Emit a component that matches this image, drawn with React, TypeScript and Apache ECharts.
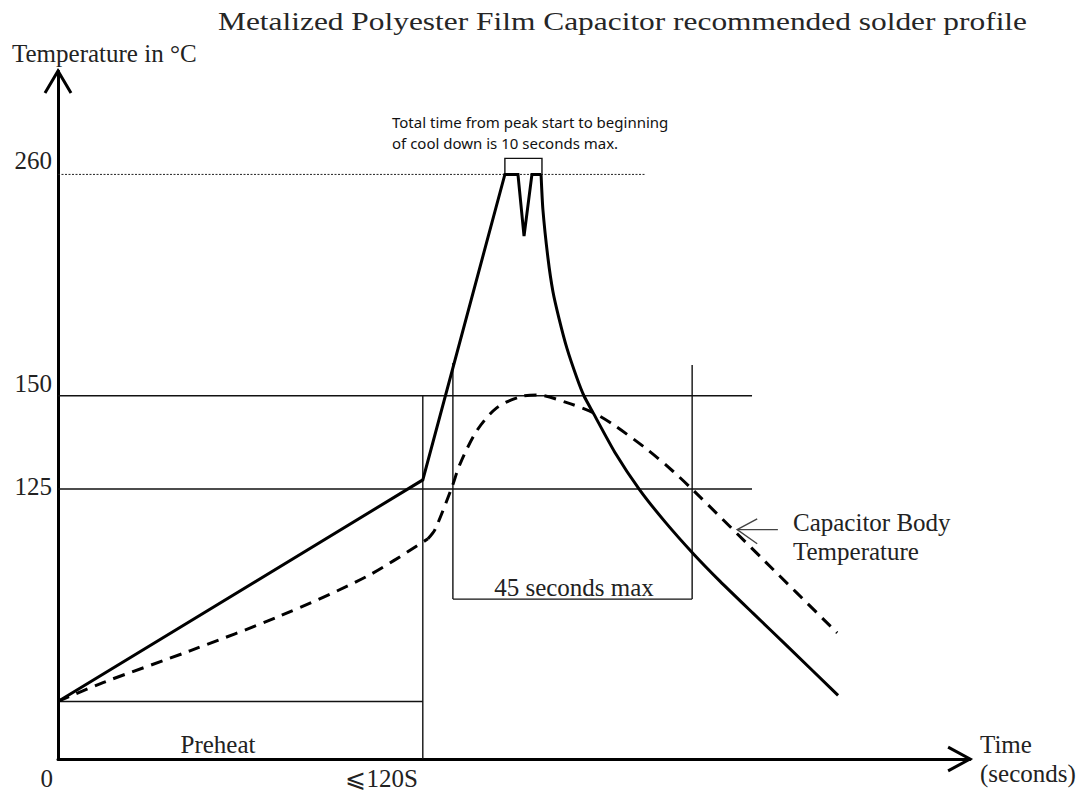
import React, { useEffect, useRef } from 'react';
import * as echarts from 'echarts';

// ---------- texts ----------
const TITLE = 'Metalized Polyester Film Capacitor recommended solder profile';
const Y_NAME = 'Temperature in °C';
const X_NAME = 'Time\n(seconds)';
const NOTE_LINES = ['Total time from peak start to beginning', 'of cool down is 10 seconds max.'];
const PREHEAT = 'Preheat';
const WINDOW_LABEL = '45 seconds max';
const BODY_LABEL = 'Capacitor Body\nTemperature';

// ---------- axes (schematic units) ----------
const X_MAX = 300;
const Y_MAX = 318;
const X_TICK_VALUES = [0, 120];
const X_TICK_LABELS = ['0', '⩽120S'];
const Y_LEVEL_VALUES = [124.8, 167.9, 270.2];
const Y_LEVEL_LABELS = ['125', '150', '260'];

// ---------- series data [time, level] ----------
const profileRise = [
  [0, 26.6], [120, 129], [147, 270.2], [151.3, 270.2], [153.3, 241.7], [155.9, 270.2], [158.9, 270.2],
];
const profileFall = [
  [158.9, 270.2], [159.5, 254.1], [161.2, 231.2], [162.8, 216.1], [164.8, 203.7], [167.4, 189.9],
  [170.7, 176.1], [173.0, 167.9], [176.0, 160.1], [183.2, 141.7], [191.4, 124.3], [199.7, 109.6],
  [208.9, 95.0], [217.8, 82.1], [228.6, 67.4], [239.8, 52.3], [256.6, 29.4],
];
const bodyTempHeat = [
  [0, 26.6], [14.8, 35.3], [43.4, 50.0], [73.0, 66.1], [101.6, 84.4], [121.7, 101.8],
];
const bodyTempPeak = [
  [121.7, 101.8], [124.0, 106.0], [129.6, 125.7], [132.2, 136.2], [137.8, 151.8], [144.4, 162.4],
  [152.0, 167.4], [157.6, 168.3], [167.4, 164.7], [176.0, 160.1], [182.6, 154.6], [193.8, 143.1],
  [202.3, 133.0], [208.9, 124.3], [232.6, 91.3], [256.3, 58.3],
];

// guide lines
const line150 = [[0, 167.9], [228.3, 167.9]];
const line125 = [[0, 124.8], [228.3, 124.8]];
const line260 = [[0, 270.2], [193.1, 270.2]];
const preheatLine = [[0, 26.6], [120, 26.6]];
const preheatEnd = [[120, 0], [120, 167.9]];
const windowStart = [[129.9, 183], [129.9, 73.9]];
const windowEnd = [[208.6, 182.1], [208.6, 73.9]];
const windowBase = [[129.9, 73.9], [208.6, 73.9]];
const peakBracket = [[147, 270.2], [147, 277.6], [159.2, 277.6], [159.2, 270.2]];
const bodyPointer = [[236.8, 106.0], [223.4, 106.0]];
const bodyPointerHead = [[230.0, 111.0], [223.4, 106.0], [230.0, 99.5]];
const yArrowHead = [[-4.28, 307.8], [0, Y_MAX], [4.28, 307.8]];
const xArrowHead = [[292.8, 5.5], [X_MAX, 0], [292.8, -5.5]];

const SERIF = '"Liberation Serif", "Times New Roman", serif';
const SANS = '"Noto Sans", "Open Sans", sans-serif';
const TEXT_COLOR = '#222';
// label line heights (vertical offset of each level label above its line)
const Y_LABEL_LINE_HEIGHTS = [4, 25, 27];

function seg(data: number[][], width: number, color = '#000', type: any = 'solid', smooth: any = false) {
  return {
    type: 'line',
    data,
    symbol: 'none',
    silent: true,
    clip: false,
    smooth,
    lineStyle: { width, color, type, cap: 'butt', join: 'miter' },
  };
}

function indexFor(values: number[], v: number) {
  for (let i = 0; i < values.length; i++) {
    if (Math.abs(values[i] - v) < 1e-6) return i;
  }
  return -1;
}

export default function App() {
  const ref = useRef<HTMLDivElement>(null);

  useEffect(() => {
    if (!ref.current) return;
    const chart = echarts.init(ref.current, null, { renderer: 'svg' });

    let titleScale = 1.256;
    try {
      const ctx = document.createElement('canvas').getContext('2d');
      if (ctx) {
        ctx.font = '25px "Liberation Serif"';
        const w = ctx.measureText(TITLE).width;
        if (w > 0) titleScale = 809 / w;
      }
    } catch (e) {
      /* ignore */
    }

    const rich: any = {};
    Y_LABEL_LINE_HEIGHTS.forEach((lh, i) => {
      rich['l' + i] = { lineHeight: lh, fontFamily: SERIF, fontSize: 25, color: TEXT_COLOR };
    });

    const texts: any[] = [
      {
        id: 't-title', type: 'text', x: 218, y: 22, scaleX: titleScale, silent: true,
        style: { text: TITLE, fontFamily: SERIF, fontSize: 25, fill: '#262626', align: 'left', verticalAlign: 'middle' },
      },
      {
        id: 't-yname', type: 'text', x: 12, y: 53, silent: true,
        style: { text: Y_NAME, fontFamily: SERIF, fontSize: 25, fill: TEXT_COLOR, align: 'left', verticalAlign: 'middle' },
      },
      {
        id: 't-note', type: 'text', x: 392, y: 132, silent: true,
        style: {
          text: NOTE_LINES.join('\n'), fontFamily: SANS, fontSize: 15, lineHeight: 21,
          fill: '#111', align: 'left', verticalAlign: 'middle',
        },
      },
      {
        id: 't-preheat', type: 'text', x: 218, y: 744, silent: true,
        style: { text: PREHEAT, fontFamily: SERIF, fontSize: 25, fill: TEXT_COLOR, align: 'center', verticalAlign: 'middle' },
      },
      {
        id: 't-window', type: 'text', x: 574, y: 587, silent: true,
        style: { text: WINDOW_LABEL, fontFamily: SERIF, fontSize: 25, fill: TEXT_COLOR, align: 'center', verticalAlign: 'middle' },
      },
      {
        id: 't-body', type: 'text', x: 793, y: 537, silent: true,
        style: {
          text: BODY_LABEL, fontFamily: SERIF, fontSize: 25, lineHeight: 29,
          fill: TEXT_COLOR, align: 'left', verticalAlign: 'middle',
        },
      },
    ];

    const option: any = {
      animation: false,
      backgroundColor: '#fff',
      grid: { left: 58, right: 115, top: 71, bottom: 27, containLabel: false },
      xAxis: {
        type: 'value',
        min: 0,
        max: X_MAX,
        name: X_NAME,
        nameLocation: 'end',
        nameGap: 10,
        nameTextStyle: {
          fontFamily: SERIF, fontSize: 25, color: TEXT_COLOR, align: 'left',
          verticalAlign: 'middle', lineHeight: 29,
        },
        axisLine: { show: true, lineStyle: { color: '#000', width: 3 } },
        axisTick: { show: false },
        splitLine: { show: false },
        axisLabel: {
          customValues: X_TICK_VALUES,
          formatter: (v: number) => {
            const i = indexFor(X_TICK_VALUES, v);
            return i >= 0 ? X_TICK_LABELS[i] : '';
          },
          align: 'right',
          padding: [0, 5, 0, 0],
          margin: 7,
          fontFamily: SERIF,
          fontSize: 25,
          color: TEXT_COLOR,
        },
      },
      yAxis: {
        type: 'value',
        min: 0,
        max: Y_MAX,
        axisLine: { show: true, onZero: false, lineStyle: { color: '#000', width: 3 } },
        axisTick: { show: false },
        splitLine: { show: false },
        axisLabel: {
          customValues: Y_LEVEL_VALUES,
          formatter: (v: number) => {
            const i = indexFor(Y_LEVEL_VALUES, v);
            return i >= 0 ? '{l' + i + '|' + Y_LEVEL_LABELS[i] + '}' : '';
          },
          rich,
          verticalAlign: 'bottom',
          margin: 6,
          fontFamily: SERIF,
          fontSize: 25,
          color: TEXT_COLOR,
        },
      },
      graphic: texts,
      series: [
        seg(line150, 1.4, '#111'),
        seg(line125, 1.4, '#111'),
        seg(line260, 1, '#222', [2, 1.5]),
        seg(preheatLine, 1.4, '#111'),
        seg(preheatEnd, 1.4, '#111'),
        seg(windowStart, 1.4, '#111'),
        seg(windowEnd, 1.4, '#111'),
        seg(windowBase, 1.4, '#111'),
        seg(peakBracket, 1.4, '#111'),
        seg(bodyPointer, 1.4, '#444'),
        seg(bodyPointerHead, 1.4, '#444'),
        seg(profileRise, 3, '#000'),
        seg(profileFall, 3, '#000', 'solid', 0.2),
        seg(bodyTempHeat, 3, '#000', [12, 8], 0.3),
        seg(bodyTempPeak, 3, '#000', [12, 8], 0.3),
      ],
    };

    chart.setOption(option);

    // axis arrow heads, placed through the grid's own coordinate conversion
    const toPx = (pts: number[][]) => pts.map((p) => chart.convertToPixel({ gridIndex: 0 }, p) as number[]);
    const arrows = [
      { id: 'a-y', points: toPx(yArrowHead) },
      { id: 'a-x', points: toPx(xArrowHead) },
    ].map((a) => ({
      id: a.id, type: 'polyline', silent: true, z: 10,
      shape: { points: a.points },
      style: { stroke: '#000', lineWidth: 3, fill: null, lineJoin: 'miter' },
    }));
    chart.setOption({ graphic: [...texts, ...arrows] });

    return () => chart.dispose();
  }, []);

  return (
    <div
      ref={ref}
      style={{ position: 'absolute', left: 0, top: 0, width: 1085, height: 791, background: '#fff' }}
    />
  );
}
